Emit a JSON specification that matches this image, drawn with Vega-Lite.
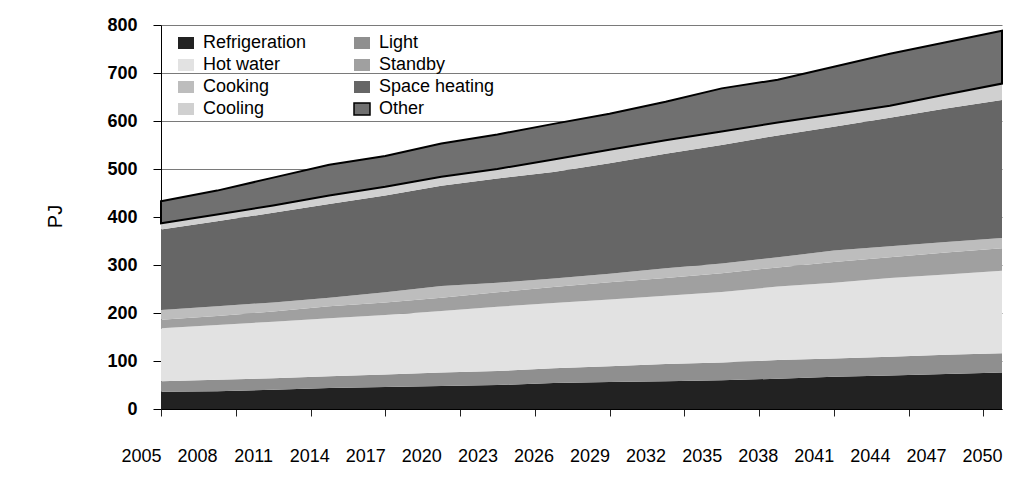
{
  "$schema": "https://vega.github.io/schema/vega-lite/v6.json",
  "width": 841,
  "height": 384,
  "autosize": {"type": "none"},
  "padding": {"left": 161, "top": 25, "right": 8, "bottom": 75},
  "background": "white",
  "config": {"view": {"stroke": null}, "font": "Liberation Sans"},
  "data": {"values": [
    {"year":2005,"series":"Refrigeration","k":1,"pj":36},{"year":2005,"series":"Light","k":2,"pj":22},{"year":2005,"series":"Hot water","k":3,"pj":110},{"year":2005,"series":"Standby","k":4,"pj":18},{"year":2005,"series":"Cooking","k":5,"pj":20},{"year":2005,"series":"Space heating","k":6,"pj":168},{"year":2005,"series":"Cooling","k":7,"pj":13},{"year":2005,"series":"Other","k":8,"pj":46},
    {"year":2008,"series":"Refrigeration","k":1,"pj":37},{"year":2008,"series":"Light","k":2,"pj":24},{"year":2008,"series":"Hot water","k":3,"pj":114},{"year":2008,"series":"Standby","k":4,"pj":19},{"year":2008,"series":"Cooking","k":5,"pj":20},{"year":2008,"series":"Space heating","k":6,"pj":177},{"year":2008,"series":"Cooling","k":7,"pj":14},{"year":2008,"series":"Other","k":8,"pj":50},
    {"year":2011,"series":"Refrigeration","k":1,"pj":40},{"year":2011,"series":"Light","k":2,"pj":24},{"year":2011,"series":"Hot water","k":3,"pj":118},{"year":2011,"series":"Standby","k":4,"pj":21},{"year":2011,"series":"Cooking","k":5,"pj":19},{"year":2011,"series":"Space heating","k":6,"pj":187},{"year":2011,"series":"Cooling","k":7,"pj":15},{"year":2011,"series":"Other","k":8,"pj":58},
    {"year":2014,"series":"Refrigeration","k":1,"pj":44},{"year":2014,"series":"Light","k":2,"pj":24},{"year":2014,"series":"Hot water","k":3,"pj":121},{"year":2014,"series":"Standby","k":4,"pj":25},{"year":2014,"series":"Cooking","k":5,"pj":18},{"year":2014,"series":"Space heating","k":6,"pj":195},{"year":2014,"series":"Cooling","k":7,"pj":18},{"year":2014,"series":"Other","k":8,"pj":64},
    {"year":2017,"series":"Refrigeration","k":1,"pj":46},{"year":2017,"series":"Light","k":2,"pj":26},{"year":2017,"series":"Hot water","k":3,"pj":124},{"year":2017,"series":"Standby","k":4,"pj":26},{"year":2017,"series":"Cooking","k":5,"pj":21},{"year":2017,"series":"Space heating","k":6,"pj":202},{"year":2017,"series":"Cooling","k":7,"pj":18},{"year":2017,"series":"Other","k":8,"pj":64},
    {"year":2020,"series":"Refrigeration","k":1,"pj":48},{"year":2020,"series":"Light","k":2,"pj":28},{"year":2020,"series":"Hot water","k":3,"pj":128},{"year":2020,"series":"Standby","k":4,"pj":28},{"year":2020,"series":"Cooking","k":5,"pj":24},{"year":2020,"series":"Space heating","k":6,"pj":209},{"year":2020,"series":"Cooling","k":7,"pj":19},{"year":2020,"series":"Other","k":8,"pj":69},
    {"year":2023,"series":"Refrigeration","k":1,"pj":50},{"year":2023,"series":"Light","k":2,"pj":29},{"year":2023,"series":"Hot water","k":3,"pj":134},{"year":2023,"series":"Standby","k":4,"pj":30},{"year":2023,"series":"Cooking","k":5,"pj":20},{"year":2023,"series":"Space heating","k":6,"pj":217},{"year":2023,"series":"Cooling","k":7,"pj":20},{"year":2023,"series":"Other","k":8,"pj":72},
    {"year":2026,"series":"Refrigeration","k":1,"pj":54},{"year":2026,"series":"Light","k":2,"pj":31},{"year":2026,"series":"Hot water","k":3,"pj":136},{"year":2026,"series":"Standby","k":4,"pj":33},{"year":2026,"series":"Cooking","k":5,"pj":18},{"year":2026,"series":"Space heating","k":6,"pj":222},{"year":2026,"series":"Cooling","k":7,"pj":26},{"year":2026,"series":"Other","k":8,"pj":74},
    {"year":2029,"series":"Refrigeration","k":1,"pj":56},{"year":2029,"series":"Light","k":2,"pj":33},{"year":2029,"series":"Hot water","k":3,"pj":139},{"year":2029,"series":"Standby","k":4,"pj":36},{"year":2029,"series":"Cooking","k":5,"pj":18},{"year":2029,"series":"Space heating","k":6,"pj":230},{"year":2029,"series":"Cooling","k":7,"pj":28},{"year":2029,"series":"Other","k":8,"pj":75},
    {"year":2032,"series":"Refrigeration","k":1,"pj":58},{"year":2032,"series":"Light","k":2,"pj":36},{"year":2032,"series":"Hot water","k":3,"pj":142},{"year":2032,"series":"Standby","k":4,"pj":37},{"year":2032,"series":"Cooking","k":5,"pj":20},{"year":2032,"series":"Space heating","k":6,"pj":239},{"year":2032,"series":"Cooling","k":7,"pj":28},{"year":2032,"series":"Other","k":8,"pj":80},
    {"year":2035,"series":"Refrigeration","k":1,"pj":60},{"year":2035,"series":"Light","k":2,"pj":37},{"year":2035,"series":"Hot water","k":3,"pj":147},{"year":2035,"series":"Standby","k":4,"pj":39},{"year":2035,"series":"Cooking","k":5,"pj":20},{"year":2035,"series":"Space heating","k":6,"pj":247},{"year":2035,"series":"Cooling","k":7,"pj":28},{"year":2035,"series":"Other","k":8,"pj":90},
    {"year":2038,"series":"Refrigeration","k":1,"pj":63},{"year":2038,"series":"Light","k":2,"pj":39},{"year":2038,"series":"Hot water","k":3,"pj":153},{"year":2038,"series":"Standby","k":4,"pj":40},{"year":2038,"series":"Cooking","k":5,"pj":21},{"year":2038,"series":"Space heating","k":6,"pj":254},{"year":2038,"series":"Cooling","k":7,"pj":27},{"year":2038,"series":"Other","k":8,"pj":89},
    {"year":2041,"series":"Refrigeration","k":1,"pj":67},{"year":2041,"series":"Light","k":2,"pj":38},{"year":2041,"series":"Hot water","k":3,"pj":158},{"year":2041,"series":"Standby","k":4,"pj":43},{"year":2041,"series":"Cooking","k":5,"pj":24},{"year":2041,"series":"Space heating","k":6,"pj":258},{"year":2041,"series":"Cooling","k":7,"pj":26},{"year":2041,"series":"Other","k":8,"pj":99},
    {"year":2044,"series":"Refrigeration","k":1,"pj":70},{"year":2044,"series":"Light","k":2,"pj":39},{"year":2044,"series":"Hot water","k":3,"pj":164},{"year":2044,"series":"Standby","k":4,"pj":43},{"year":2044,"series":"Cooking","k":5,"pj":23},{"year":2044,"series":"Space heating","k":6,"pj":268},{"year":2044,"series":"Cooling","k":7,"pj":25},{"year":2044,"series":"Other","k":8,"pj":108},
    {"year":2047,"series":"Refrigeration","k":1,"pj":73},{"year":2047,"series":"Light","k":2,"pj":40},{"year":2047,"series":"Hot water","k":3,"pj":167},{"year":2047,"series":"Standby","k":4,"pj":46},{"year":2047,"series":"Cooking","k":5,"pj":22},{"year":2047,"series":"Space heating","k":6,"pj":278},{"year":2047,"series":"Cooling","k":7,"pj":29},{"year":2047,"series":"Other","k":8,"pj":109},
    {"year":2050,"series":"Refrigeration","k":1,"pj":76},{"year":2050,"series":"Light","k":2,"pj":40},{"year":2050,"series":"Hot water","k":3,"pj":172},{"year":2050,"series":"Standby","k":4,"pj":47},{"year":2050,"series":"Cooking","k":5,"pj":21},{"year":2050,"series":"Space heating","k":6,"pj":288},{"year":2050,"series":"Cooling","k":7,"pj":34},{"year":2050,"series":"Other","k":8,"pj":110}
  ]},
  "mark": {"type": "area", "strokeWidth": 2, "interpolate": "linear"},
  "encoding": {
    "x": {
      "field": "year", "type": "quantitative",
      "scale": {"domain": [2005, 2050], "nice": false, "zero": false},
      "axis": {
        "title": null,
        "zindex": 1,
        "values": [2005,2008,2009,2011,2013,2014,2017,2020,2021,2023,2025,2026,2029,2032,2033,2035,2037,2038,2041,2044,2045,2047,2049,2050],
        "format": "d",
        "labelExpr": "(datum.value - 2005) % 3 == 0 ? datum.label : ''",
        "ticks": true,
        "tickColor": {"condition": {"test": "datum.value % 4 == 1", "value": "#222222"}, "value": "transparent"},
        "tickWidth": 1,
        "labelOffset": -20,
        "labelFlush": false,
        "labelOverlap": false,
        "labelBound": false,
        "labelPadding": 31,
        "labelFont": "Liberation Sans",
        "labelFontSize": 18,
        "labelColor": "#000",
        "tickSize": 7,
        "domainColor": "#000",
        "grid": false
      }
    },
    "y": {
      "field": "pj", "type": "quantitative", "stack": "zero",
      "scale": {"domain": [0, 800], "nice": false},
      "axis": {
        "values": [0,100,200,300,400,500,600,700,800],
        "title": "PJ",
        "titleFont": "Liberation Sans",
        "titleFontSize": 20,
        "titleFontWeight": "normal",
        "titleColor": "#000",
        "titleAngle": 270,
        "titleX": -106,
        "titleY": 191,
        "titleAlign": "center",
        "titleBaseline": "middle",
        "labelFont": "Liberation Sans",
        "labelFontSize": 18,
        "labelFontWeight": "bold",
        "labelColor": "#000",
        "labelPadding": 16,
        "tickSize": 8,
        "tickColor": "#000",
        "domainColor": "#000",
        "grid": true,
        "gridColor": "#7a7a7a",
        "gridWidth": 1
      }
    },
    "fill": {
      "field": "series", "type": "nominal",
      "scale": {
        "domain": ["Refrigeration","Hot water","Cooking","Cooling","Light","Standby","Space heating","Other"],
        "range": ["#222222","#e2e2e2","#bdbdbd","#d0d0d0","#8f8f8f","#a0a0a0","#666666","#707070"]
      },
      "legend": {
        "title": null,
        "orient": "none",
        "legendX": 16,
        "legendY": 9,
        "columns": 2,
        "columnPadding": 44,
        "rowPadding": 4,
        "padding": 0,
        "symbolType": "M-1,-0.75H1V0.75H-1Z",
        "symbolSize": 256,
        "symbolStrokeWidth": 1.5,
        "labelFont": "Liberation Sans",
        "labelFontSize": 18,
        "labelColor": "#000",
        "labelOffset": 8,
        "labelLimit": 300
      }
    },
    "stroke": {
      "field": "series", "type": "nominal",
      "scale": {
        "domain": ["Refrigeration","Hot water","Cooking","Cooling","Light","Standby","Space heating","Other"],
        "range": ["transparent","transparent","transparent","transparent","transparent","transparent","transparent","#000000"]
      }
    },
    "order": {"field": "k", "type": "quantitative"}
  }
}
